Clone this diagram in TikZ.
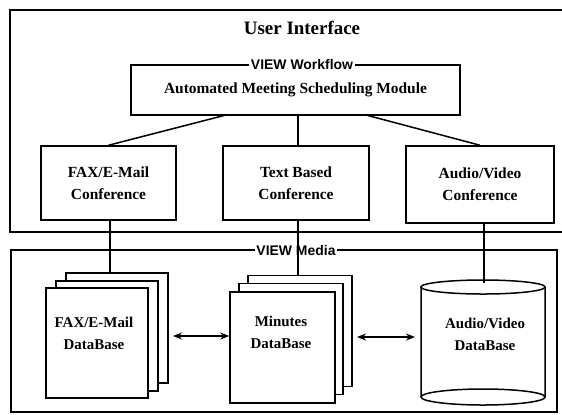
\documentclass[tikz,border=0pt]{standalone}
\usepackage{fontspec}
\setmainfont{Liberation Serif}
\setsansfont{Liberation Sans}
\usetikzlibrary{arrows.meta}

\tikzset{
  frame/.style={line width=1.5bp},
  box/.style={draw, line width=1.5bp, fill=white, inner sep=0pt, align=center},
  page/.style={draw, line width=1.5bp, fill=white, minimum width=102bp, minimum height=110bp, inner sep=0pt},
  link/.style={line width=1.5bp},
  tag/.style={fill=white, inner sep=1.5bp, font=\sffamily\bfseries\fontsize{14}{16}\selectfont},
  label/.style={font=\bfseries\fontsize{15.5}{22}\selectfont, align=center},
  dblabel/.style={font=\bfseries\fontsize{15}{22}\selectfont, align=center},
  both/.style={line width=1.8bp, {Stealth[length=9bp,width=7bp]}-{Stealth[length=9bp,width=7bp]}}
}

\begin{document}
\begin{tikzpicture}[x=1bp, y=-1bp]
\useasboundingbox (0,0) rectangle (562,414);

% outer frames
\draw[frame] (562,10) -- (10,10) -- (10,232) -- (562,232);
\draw[frame] (11,250) rectangle (557,412);
\node[font=\bfseries\fontsize{19}{22}\selectfont] (ui) at (302,28) {User Interface};

% workflow module
\node[box, minimum width=329bp, minimum height=50bp, label] (wf) at (295.5,90) {Automated Meeting Scheduling Module};
\node[tag] (wftag) at (302,65) {VIEW Workflow};

% conference boxes
\node[box, minimum width=135bp, minimum height=74bp, label] (fax) at (108.5,183) {FAX/E-Mail\\Conference};
\node[box, minimum width=146bp, minimum height=74bp, label] (txt) at (296,183) {Text Based\\Conference};
\node[box, minimum width=148bp, minimum height=77bp, label] (av) at (480,184.5) {Audio/Video\\Conference};

% workflow to conferences
\coordinate (wfl) at (226,115);
\coordinate (wfm) at (298,115);
\coordinate (wfr) at (366,115);
\draw[link] (wfl) -- (fax.north);
\draw[link] (wfm) -- (wfm |- txt.north);
\draw[link] (wfr) -- (av.north);

% FAX/E-Mail document stack
\node[page] (faxc) at (117,328) {};
\node[page] (faxb) at (107,336) {};
\node[page] (faxa) at (97,343) {};
\node[dblabel] (faxdb) at (94,333) {FAX/E-Mail\\DataBase};

% Minutes document stack
\node[page, minimum width=104bp, minimum height=111bp] (minc) at (300,331) {};
\node[page, minimum width=104bp, minimum height=111bp] (minb) at (291,339) {};
\node[page, minimum width=105bp, minimum height=111bp] (mina) at (282.5,347.5) {};
\node[dblabel] (mindb) at (281,332) {Minutes\\DataBase};

% Audio/Video cylinder
\draw[line width=1.5bp, fill=white] (421,287) -- (421,397) arc[start angle=180, end angle=360, x radius=62bp, y radius=8bp] -- (545,287);
\draw[line width=1.5bp] (421,397) arc[start angle=180, end angle=0, x radius=62bp, y radius=8bp];
\draw[line width=1.5bp, fill=white] (483,287) ellipse[x radius=62bp, y radius=7bp];
\node[dblabel] (avdb) at (485,334) {Audio/Video\\DataBase};
\coordinate (avtop) at (484,283);

% media label and conference to database links
\node[tag] (media) at (296,251) {VIEW Media};
\draw[link] (fax.south -| 110,0) -- (110,273);
\draw[link] (298,220) -- (298,275);
\draw[link] (484,223) -- (avtop);

% database exchanges
\draw[both] (173,336) -- (mina.west |- 0,336);
\draw[both] (357,337) -- (415,337);
\end{tikzpicture}
\end{document}
